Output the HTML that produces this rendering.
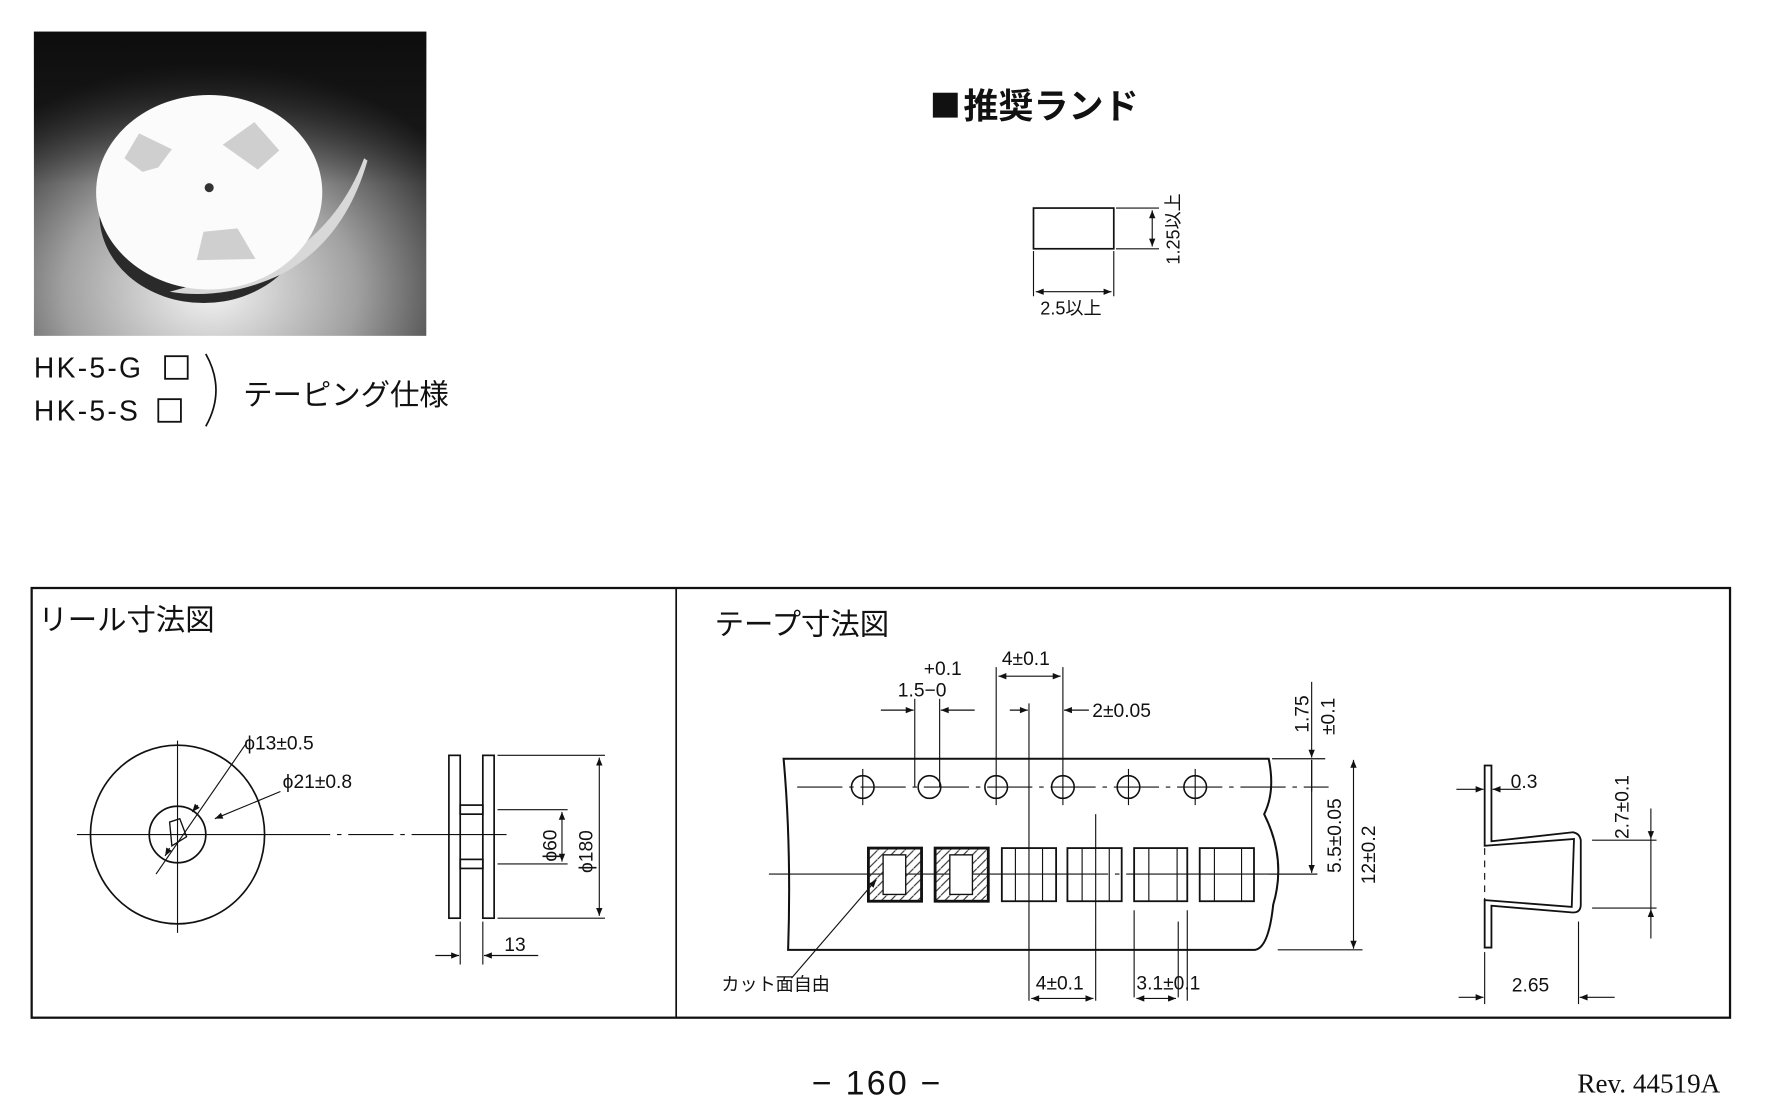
<!DOCTYPE html>
<html><head><meta charset="utf-8"><style>
html,body{margin:0;padding:0;background:#fff;}
svg{display:block;}
text{font-family:"Liberation Sans","Noto Sans CJK JP",sans-serif;fill:#111;}
</style></head><body>
<svg width="1773" height="1112" viewBox="0 0 1568 983.4" preserveAspectRatio="none" xmlns="http://www.w3.org/2000/svg">
<defs>
<marker id="a" viewBox="0 0 10 10" refX="10" refY="5" markerWidth="9" markerHeight="7" orient="auto-start-reverse" markerUnits="userSpaceOnUse"><path d="M0,1 L10,5 L0,9 z" fill="#111"/></marker>
<radialGradient id="bg" cx="0.45" cy="0.85" r="0.75"><stop offset="0" stop-color="#f4f4f4"/><stop offset="0.5" stop-color="#a0a0a0"/><stop offset="1" stop-color="#1a1a1a"/></radialGradient>
<linearGradient id="bg2" x1="0" y1="0" x2="0" y2="1"><stop offset="0" stop-color="#0d0d0d" stop-opacity="1"/><stop offset="0.5" stop-color="#111" stop-opacity="0"/></linearGradient>
<pattern id="h" width="8" height="8" patternUnits="userSpaceOnUse"><path d="M0,8 L8,0" stroke="#333" stroke-width="1"/></pattern>
</defs>
<rect width="1568" height="983.4" fill="#fff"/>
<!-- photo -->
<rect x="30" y="28" width="347" height="269" fill="url(#bg)"/>
<rect x="30" y="28" width="347" height="269" fill="url(#bg2)"/>
<ellipse cx="180" cy="190" rx="92" ry="78" fill="#2a2a2a"/>
<path d="M245,232 Q300,200 322,140 L325,142 Q305,212 250,242 Q200,266 150,258 Z" fill="#d8d8d8"/>
<ellipse cx="185" cy="170" rx="100" ry="86" fill="#fbfbfb"/>
<path d="M110,140 L123,118 L152,132 L140,148 L126,152 Z" fill="#cfcfcf"/>
<path d="M197,128 L225,108 L247,133 L228,150 Z" fill="#cfcfcf"/>
<path d="M174,230 L180,205 L210,202 L226,229 Z" fill="#cfcfcf"/>
<circle cx="185" cy="166" r="4" fill="#333"/>
<!-- model text -->
<text x="30" y="334" font-size="25" letter-spacing="2">HK-5-G</text>
<rect x="146" y="315" width="20" height="20" fill="none" stroke="#111" stroke-width="1.6"/>
<text x="30" y="372" font-size="25" letter-spacing="2">HK-5-S</text>
<rect x="140" y="353" width="20" height="20" fill="none" stroke="#111" stroke-width="1.6"/>
<path d="M182,313 Q200,345 182,377" fill="none" stroke="#111" stroke-width="1.5"/>
<text x="215" y="358" font-size="26">テーピング仕様</text>
<!-- land -->
<rect x="825" y="82" width="22" height="22" fill="#111"/>
<text x="852" y="105" font-size="31" font-weight="bold">推奨ランド</text>
<rect x="914" y="184" width="71" height="36" fill="none" stroke="#111" stroke-width="1.5"/>
<line x1="987" y1="184" x2="1025" y2="184" stroke="#111"/><line x1="987" y1="220" x2="1025" y2="220" stroke="#111"/>
<line x1="1019" y1="186" x2="1019" y2="218" stroke="#111" marker-start="url(#a)" marker-end="url(#a)"/>
<text transform="translate(1043,234) rotate(-90)" font-size="16">1.25以上</text>
<line x1="914" y1="222" x2="914" y2="262" stroke="#111"/><line x1="985" y1="222" x2="985" y2="262" stroke="#111"/>
<line x1="916" y1="258" x2="983" y2="258" stroke="#111" marker-start="url(#a)" marker-end="url(#a)"/>
<text x="920" y="278" font-size="16">2.5以上</text>
<!-- box -->
<rect x="28" y="520" width="1502" height="380" fill="none" stroke="#111" stroke-width="2"/>
<line x1="598" y1="520" x2="598" y2="900" stroke="#111" stroke-width="1.5"/>
<text x="34" y="557" font-size="26">リール寸法図</text>
<text x="632" y="561" font-size="26">テープ寸法図</text>
<!-- reel front -->
<g stroke="#111" fill="none">
<ellipse cx="157" cy="738" rx="77" ry="79" stroke-width="1.5"/>
<circle cx="157" cy="738" r="25" stroke-width="1.5"/>
<line x1="68" y1="738" x2="252" y2="738"/>
<line x1="157" y1="655" x2="157" y2="825"/>
<line x1="252" y1="738" x2="390" y2="738" stroke-dasharray="40,6,4,6"/>
<line x1="390" y1="738" x2="448" y2="738"/>
<path d="M150,727 L159,724 L165,740 L152,748 Z" stroke-width="1.2"/>
<line x1="218" y1="657" x2="138" y2="773"/>
<line x1="248" y1="700" x2="190" y2="724" marker-end="url(#a)"/>
<line x1="175" y1="712" x2="170" y2="718" marker-end="url(#a)"/>
<line x1="150" y1="750" x2="146" y2="757" marker-end="url(#a)"/>
</g>
<text x="216" y="663" font-size="17">ϕ13±0.5</text>
<text x="250" y="697" font-size="17">ϕ21±0.8</text>
<!-- reel side -->
<g stroke="#111" fill="none" stroke-width="1.5">
<rect x="397" y="668" width="10" height="144"/>
<rect x="427" y="668" width="10" height="144"/>
<rect x="407" y="712" width="20" height="8"/>
<rect x="407" y="760" width="20" height="8"/>
</g>
<g stroke="#111" fill="none">
<line x1="440" y1="668" x2="535" y2="668"/><line x1="440" y1="812" x2="535" y2="812"/>
<line x1="530" y1="670" x2="530" y2="810" marker-start="url(#a)" marker-end="url(#a)"/>
<line x1="440" y1="716" x2="502" y2="716"/><line x1="440" y1="764" x2="502" y2="764"/>
<line x1="497" y1="718" x2="497" y2="762" marker-start="url(#a)" marker-end="url(#a)"/>
<line x1="407" y1="815" x2="407" y2="853"/><line x1="427" y1="815" x2="427" y2="853"/>
<line x1="385" y1="845" x2="406" y2="845" marker-end="url(#a)"/>
<line x1="476" y1="845" x2="428" y2="845" marker-end="url(#a)"/>
</g>
<text transform="translate(492,762) rotate(-90)" font-size="17">ϕ60</text>
<text transform="translate(524,772) rotate(-90)" font-size="17">ϕ180</text>
<text x="446" y="841" font-size="17">13</text>
<!-- tape -->
<path d="M693,671 L1122,671 Q1128,700 1118,720 Q1138,760 1126,800 Q1122,838 1110,840 L697,840 Q700,750 693,671 Z" fill="none" stroke="#111" stroke-width="1.8"/>
<g stroke="#111" fill="none">
<line x1="705" y1="696" x2="1175" y2="696" stroke-dasharray="40,6,4,6"/>
<line x1="680" y1="773" x2="1165" y2="773" stroke-dasharray="300,6,4,6"/>
<g stroke-width="1.4">
<circle cx="763" cy="696" r="10"/><circle cx="822" cy="696" r="10"/><circle cx="881" cy="696" r="10"/>
<circle cx="940" cy="696" r="10"/><circle cx="998" cy="696" r="10"/><circle cx="1057" cy="696" r="10"/>
</g>
<line x1="763" y1="680" x2="763" y2="712"/><line x1="998" y1="680" x2="998" y2="712"/><line x1="1057" y1="680" x2="1057" y2="712"/>
<line x1="809" y1="618" x2="809" y2="696"/><line x1="831" y1="618" x2="831" y2="696"/>
<line x1="881" y1="590" x2="881" y2="712"/><line x1="940" y1="590" x2="940" y2="712"/>
<line x1="910" y1="622" x2="910" y2="885"/><line x1="1042" y1="815" x2="1042" y2="882"/>
<line x1="1003" y1="805" x2="1003" y2="882"/><line x1="1050" y1="805" x2="1050" y2="885"/>
<line x1="969" y1="815" x2="969" y2="885"/>
<line x1="969" y1="720" x2="969" y2="815"/>
<g stroke-width="1.6">
<rect x="768" y="750" width="47" height="47" fill="url(#h)" stroke-width="2.5"/>
<rect x="827" y="750" width="47" height="47" fill="url(#h)" stroke-width="2.5"/>
<rect x="781" y="756" width="20" height="35" fill="#fff" stroke-width="1.2"/>
<rect x="840" y="756" width="20" height="35" fill="#fff" stroke-width="1.2"/>
<rect x="886" y="750" width="48" height="47"/><rect x="944" y="750" width="48" height="47"/>
<rect x="1003" y="750" width="47" height="47"/><rect x="1061" y="750" width="48" height="47"/>
</g>
<line x1="898" y1="750" x2="898" y2="797"/><line x1="922" y1="750" x2="922" y2="797"/>
<line x1="957" y1="750" x2="957" y2="797"/><line x1="981" y1="750" x2="981" y2="797"/>
<line x1="1016" y1="750" x2="1016" y2="797"/><line x1="1041" y1="750" x2="1041" y2="797"/>
<line x1="1074" y1="750" x2="1074" y2="797"/><line x1="1098" y1="750" x2="1098" y2="797"/>
<line x1="779" y1="628" x2="808" y2="628" marker-end="url(#a)"/>
<line x1="862" y1="628" x2="832" y2="628" marker-end="url(#a)"/>
<line x1="883" y1="598" x2="938" y2="598" marker-start="url(#a)" marker-end="url(#a)"/>
<line x1="893" y1="628" x2="909" y2="628" marker-end="url(#a)"/>
<line x1="963" y1="628" x2="941" y2="628" marker-end="url(#a)"/>
<line x1="912" y1="883" x2="967" y2="883" marker-start="url(#a)" marker-end="url(#a)"/>
<line x1="1005" y1="883" x2="1040" y2="883" marker-start="url(#a)" marker-end="url(#a)"/>
<line x1="700" y1="865" x2="775" y2="778" marker-end="url(#a)"/>
<line x1="1125" y1="671" x2="1172" y2="671"/><line x1="1130" y1="840" x2="1205" y2="840"/>
<line x1="1122" y1="773" x2="1165" y2="773"/>
<line x1="1160" y1="603" x2="1160" y2="670" marker-end="url(#a)"/>
<line x1="1160" y1="672" x2="1160" y2="772" marker-end="url(#a)"/>
<line x1="1160" y1="672" x2="1160" y2="700"/>
<line x1="1197" y1="672" x2="1197" y2="839" marker-start="url(#a)" marker-end="url(#a)"/>
<path d="M1313,677 L1319,677 L1319,744 L1391,736 Q1397,737 1398,743 L1398,800 Q1398,807 1391,807 L1319,801 L1319,838 L1313,838 L1313,796 L1390,802 L1392,742 L1313,748 Z" stroke-width="1.6"/>
<line x1="1313" y1="750" x2="1313" y2="796" stroke-dasharray="6,5"/>
<line x1="1288" y1="698" x2="1312" y2="698" marker-end="url(#a)"/>
<line x1="1345" y1="698" x2="1320" y2="698" marker-end="url(#a)"/>
<line x1="1408" y1="743" x2="1465" y2="743"/><line x1="1408" y1="803" x2="1465" y2="803"/>
<line x1="1460" y1="715" x2="1460" y2="742" marker-end="url(#a)"/>
<line x1="1460" y1="830" x2="1460" y2="804" marker-end="url(#a)"/>
<line x1="1460" y1="742" x2="1460" y2="804"/>
<line x1="1313" y1="842" x2="1313" y2="888"/><line x1="1396" y1="815" x2="1396" y2="888"/>
<line x1="1290" y1="882" x2="1312" y2="882" marker-end="url(#a)"/>
<line x1="1428" y1="882" x2="1397" y2="882" marker-end="url(#a)"/>
</g>
<g font-size="17">
<text x="817" y="597">+0.1</text>
<text x="794" y="616">1.5−0</text>
<text x="886" y="588">4±0.1</text>
<text x="966" y="634">2±0.05</text>
<text x="916" y="875">4±0.1</text>
<text x="1005" y="875">3.1±0.1</text>
<text x="638" y="876" font-size="16">カット面自由</text>
<text transform="translate(1157,648) rotate(-90)">1.75</text>
<text transform="translate(1180,650) rotate(-90)">±0.1</text>
<text transform="translate(1186,772) rotate(-90)">5.5±0.05</text>
<text transform="translate(1216,782) rotate(-90)">12±0.2</text>
<text x="1336" y="697">0.3</text>
<text transform="translate(1440,742) rotate(-90)">2.7±0.1</text>
<text x="1337" y="877">2.65</text>
</g>
<text x="718" y="968" font-size="30" letter-spacing="2">− 160 −</text>
<text x="1395" y="966" font-size="24" style="font-family:'Liberation Serif',serif">Rev. 44519A</text>
</svg>
</body></html>
